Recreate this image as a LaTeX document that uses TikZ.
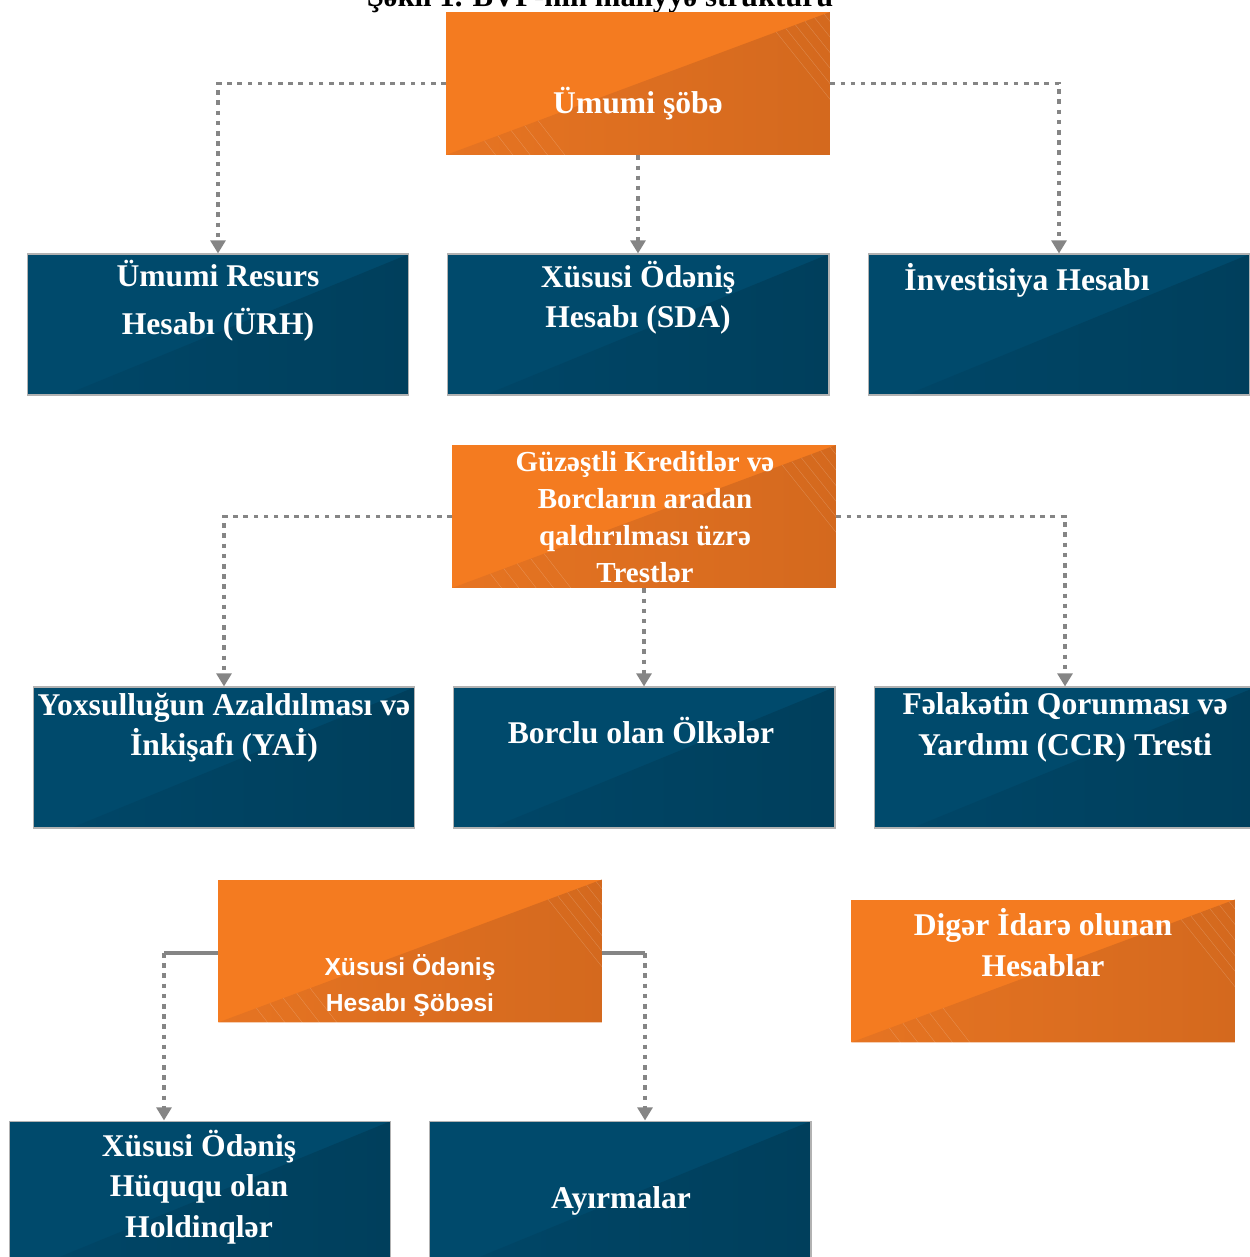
\documentclass[tikz,border=0pt]{standalone}
\usepackage{fontspec}
\setmainfont{Liberation Serif}
\newfontfamily\sansaz{Liberation Sans}
\usetikzlibrary{arrows.meta,calc}
\definecolor{orgA}{HTML}{F47B20}
\definecolor{orgB}{HTML}{E67422}
\definecolor{orgC}{HTML}{D4691E}
\definecolor{bluA}{HTML}{004A6C}
\definecolor{bluB}{HTML}{004667}
\definecolor{bluC}{HTML}{003F5C}
\definecolor{lineg}{HTML}{858585}
\tikzset{
  orangebox/.style={rectangle, inner sep=0pt, minimum width=7.68cm, minimum height=2.86cm, fill=orgA,
    path picture={
      \path (path picture bounding box.south west) coordinate (q1) (path picture bounding box.north east) coordinate (q2);
      \shade[left color=orgB, right color=orgC] (q1) -- (q2) -- (q2 |- q1) -- cycle;
      \foreach \t in {0.86,0.885,...,0.99} \draw[white, opacity=.22, very thin] ($(q1)!\t!(q2)$) -- ++(1.2cm,-1.5cm);
      \foreach \t in {0.1,0.135,...,0.26} \draw[white, opacity=.22, very thin] ($(q1)!\t!(q2)$) -- ++(0.7cm,-0.9cm);
    }},
  bluebox/.style={rectangle, inner sep=0pt, minimum width=7.64cm, minimum height=2.82cm, fill=bluA,
    draw=gray!60, line width=0.6pt,
    path picture={
      \path (path picture bounding box.south west) coordinate (q1) (path picture bounding box.north east) coordinate (q2);
      \shade[left color=bluB, right color=bluC] ($(q1)!0.1!(q2 |- q1)$) -- (q2) -- (q2 |- q1) -- cycle;
    }},
  lbl/.style={text=white, font=\bfseries\fontsize{18}{23}\selectfont, align=center, inner sep=0pt},
  dotarrow/.style={draw=lineg, line width=2pt, dash pattern=on 2.6pt off 3.2pt,
    -{Triangle[width=8.5pt,length=7.5pt,fill=lineg]}},
  barline/.style={draw=lineg, line width=2.4pt},
}
\begin{document}
\begin{tikzpicture}[x=0.02cm, y=-0.02cm]
  \useasboundingbox (0,0) rectangle (1250,1257);
  \clip (0,0) rectangle (1250,1257);
  % title, cut at the top edge
  \node[font=\bfseries\fontsize{17.5}{20}\selectfont, anchor=base, inner sep=0pt] (title) at (600,7) {Şəkil 1. BVF-nin maliyyə strukturu};
  % orange boxes
  \node[orangebox] (umumi) at (638,83.5) {};
  \node[orangebox] (guz) at (644,516.5) {};
  \node[orangebox] (xoh) at (410,951) {};
  \node[orangebox] (diger) at (1043,971) {};
  % blue boxes
  \foreach \n/\x/\y in {urh/218/324.5, sda/638/324.5, inv/1059/324.5,
                        yai/224/757.5, borc/644/757.5, ccr/1065/757.5,
                        hold/200/1191.5, ayir/620/1191.5}
    \node[bluebox] (\n) at (\x,\y) {};
  % texts
  \node[lbl] (t-umumi) at (638,104) {Ümumi şöbə};
  \node[lbl, font=\bfseries\fontsize{18}{27.5}\selectfont] (t-urh) at (218,301) {Ümumi Resurs\\Hesabı (ÜRH)};
  \node[lbl] (t-sda) at (638,297.5) {Xüsusi Ödəniş\\Hesabı (SDA)};
  \node[lbl] (t-inv) at (1027,280) {İnvestisiya Hesabı};
  \node[lbl, font=\bfseries\fontsize{16.5}{21}\selectfont] (t-guz) at (645,517) {Güzəştli Kreditlər və\\Borcların aradan\\qaldırılması üzrə\\Trestlər};
  \node[lbl] (t-yai) at (224,727.5) {Yoxsulluğun Azaldılması və\\İnkişafı (YAİ)};
  \node[lbl] (t-borc) at (641,731) {Borclu olan Ölkələr};
  \node[lbl] (t-ccr) at (1065,727.5) {Fəlakətin Qorunması və\\Yardımı (CCR) Tresti};
  \node[lbl, font=\sansaz\bfseries\fontsize{14}{20}\selectfont] (t-xoh) at (410,985.5) {Xüsusi Ödəniş\\Hesabı Şöbəsi};
  \node[lbl] (t-diger) at (1043,942.5) {Digər İdarə olunan\\Hesablar};
  \node[lbl] (t-hold) at (199,1187) {Xüsusi Ödəniş\\Hüququ olan\\Holdinqlər};
  \node[lbl] (t-ayir) at (621,1201) {Ayırmalar};
  % connectors
  \draw[dotarrow] (umumi.west) -| (urh.north);
  \draw[dotarrow] (umumi.south) -- (sda.north);
  \draw[dotarrow] (umumi.east) -| (inv.north);
  \draw[dotarrow] (guz.west) -| (yai.north);
  \draw[dotarrow] (guz.south) -- (borc.north);
  \draw[dotarrow] (guz.east) -| (ccr.north);
  \coordinate (xl) at (164,953);
  \coordinate (xr) at (645,953);
  \draw[barline] (xoh.west |- xl) -- (xl);
  \draw[barline] (xoh.east |- xr) -- (xr);
  \draw[dotarrow] (xl) -- (xl |- hold.north);
  \draw[dotarrow] (xr) -- (xr |- ayir.north);
\end{tikzpicture}
\end{document}
